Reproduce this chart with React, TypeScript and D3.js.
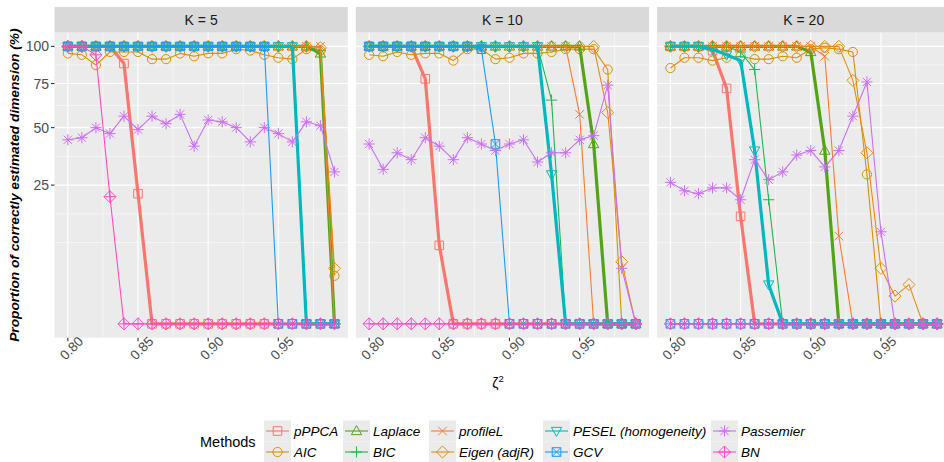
import React, { useRef, useEffect } from "react";
import * as d3 from "d3";

// x values (zeta^2)
const zeta = [0.80, 0.81, 0.82, 0.83, 0.84, 0.85, 0.86, 0.87, 0.88, 0.89, 0.90, 0.91, 0.92, 0.93, 0.94, 0.95, 0.96, 0.97, 0.98, 0.99];

const methods = ["pPPCA", "AIC", "Laplace", "BIC", "profileL", "Eigen (adjR)", "PESEL (homogeneity)", "GCV", "Passemier", "BN"];
const methodColors = ["#F8766D", "#D89000", "#53A316", "#1FB84F", "#FC7B2C", "#E88B0E", "#00B9BF", "#1A9CF5", "#CB6EF5", "#FF4AC3"];
const methodShapes = ["square", "circle", "triUp", "plus", "cross", "diamond", "triDown", "squareX", "asterisk", "diamondPlus"];
const thickMethods = ["pPPCA", "Laplace", "PESEL (homogeneity)"];

const panelTitles = ["K = 5", "K = 10", "K = 20"];
const yTicks = [25, 50, 75, 100];
const xTicks = [0.80, 0.85, 0.90, 0.95];

const k5: Record<string, number[]> = {
  "pPPCA": [100, 100, 100, 100, 88, 22, 0, 0, 0, 0, 0, 0, 0, 0, 0, 0, 0, 0, 0, 0],
  "AIC": [95, 94, 87, 96, 96, 96, 91, 91, 95, 93, 95, 95, 98, 97, 94, 92, 91, 98, 97, 3],
  "Laplace": [100, 100, 100, 100, 100, 100, 100, 100, 100, 100, 100, 100, 100, 100, 100, 100, 100, 100, 95, 0],
  "BIC": [100, 100, 100, 100, 100, 100, 100, 100, 100, 100, 100, 100, 100, 100, 100, 100, 100, 100, 97, 0],
  "profileL": [100, 100, 100, 100, 100, 100, 100, 100, 100, 100, 100, 100, 100, 100, 100, 100, 100, 100, 100, 0],
  "Eigen (adjR)": [100, 100, 100, 100, 100, 100, 100, 100, 100, 100, 100, 100, 100, 100, 100, 100, 100, 100, 99, 4],
  "PESEL (homogeneity)": [100, 100, 100, 100, 100, 100, 100, 100, 100, 100, 100, 100, 100, 100, 100, 100, 100, 0, 0, 0],
  "GCV": [100, 100, 100, 100, 100, 100, 100, 100, 100, 100, 100, 100, 100, 100, 100, 0, 0, 0, 0, 0],
  "Passemier": [44, 45, 50, 47, 56, 49, 56, 52, 57, 41, 54, 53, 50, 43, 50, 47, 43, 53, 51, 30],
  "BN": [100, 100, 94, 21, 0, 0, 0, 0, 0, 0, 0, 0, 0, 0, 0, 0, 0, 0, 0, 0],
};

const k10: Record<string, number[]> = {
  "pPPCA": [100, 100, 100, 100, 78, 8, 0, 0, 0, 0, 0, 0, 0, 0, 0, 0, 0, 0, 0, 0],
  "AIC": [94, 93, 96, 94, 95, 95, 90, 98, 98, 91, 92, 95, 95, 96, 98, 98, 98, 84, 0, 0],
  "Laplace": [100, 100, 100, 100, 100, 100, 100, 100, 100, 100, 100, 100, 100, 100, 100, 100, 42, 0, 0, 0],
  "BIC": [100, 100, 100, 100, 100, 100, 100, 100, 100, 100, 100, 100, 100, 65, 0, 0, 0, 0, 0, 0],
  "profileL": [100, 100, 100, 100, 100, 100, 100, 100, 100, 100, 100, 100, 100, 100, 100, 57, 0, 0, 0, 0],
  "Eigen (adjR)": [100, 100, 100, 100, 100, 100, 100, 100, 100, 100, 100, 100, 100, 100, 100, 100, 100, 58, 5, 0],
  "PESEL (homogeneity)": [100, 100, 100, 100, 100, 100, 100, 100, 100, 100, 100, 100, 100, 29, 0, 0, 0, 0, 0, 0],
  "GCV": [100, 100, 100, 100, 100, 100, 100, 100, 98, 42, 0, 0, 0, 0, 0, 0, 0, 0, 0, 0],
  "Passemier": [42, 31, 38, 35, 45, 41, 35, 45, 42, 39, 42, 44, 34, 38, 38, 44, 46, 74, 4, 0],
  "BN": [0, 0, 0, 0, 0, 0, 0, 0, 0, 0, 0, 0, 0, 0, 0, 0, 0, 0, 0, 0],
};

const k20: Record<string, number[]> = {
  "pPPCA": [100, 100, 100, 97, 72, 15, 0, 0, 0, 0, 0, 0, 0, 0, 0, 0, 0, 0, 0, 0],
  "AIC": [85, 92, 92, 90, 92, 93, 91, 91, 93, 92, 98, 99, 98, 96, 29, 0, 0, 0, 0, 0],
  "Laplace": [100, 100, 100, 100, 100, 100, 100, 100, 100, 100, 96, 39, 0, 0, 0, 0, 0, 0, 0, 0],
  "BIC": [100, 100, 100, 100, 100, 96, 84, 20, 0, 0, 0, 0, 0, 0, 0, 0, 0, 0, 0, 0],
  "profileL": [100, 100, 100, 100, 100, 100, 100, 100, 100, 100, 100, 93, 10, 0, 0, 0, 0, 0, 0, 0],
  "Eigen (adjR)": [100, 100, 100, 100, 100, 100, 100, 100, 100, 100, 100, 100, 100, 77, 38, 4, 1, 2, 0, 0],
  "PESEL (homogeneity)": [100, 100, 100, 98, 94, 90, 39, 2, 0, 0, 0, 0, 0, 0, 0, 0, 0, 0, 0, 0],
  "GCV": [0, 0, 0, 0, 0, 0, 0, 0, 0, 0, 0, 0, 0, 0, 0, 0, 0, 0, 0, 0],
  "Passemier": [26, 23, 22, 24, 24, 20, 35, 27, 30, 37, 39, 32, 39, 56, 76, 11, 0, 0, 0, 0],
  "BN": [0, 0, 0, 0, 0, 0, 0, 0, 0, 0, 0, 0, 0, 0, 0, 0, 0, 0, 0, 0],
};

const panels = [k5, k10, k20];

const FONT = "'Liberation Sans', Arial, Helvetica, sans-serif";

// open ggplot-like point shapes
function shapePath(shape: string) {
  const s = 4.3;
  switch (shape) {
    case "square": return `M${-s},${-s}H${s}V${s}H${-s}Z`;
    case "circle": return `M${s + 0.3},0A${s + 0.3},${s + 0.3} 0 1,1 ${-s - 0.3},0A${s + 0.3},${s + 0.3} 0 1,1 ${s + 0.3},0Z`;
    case "triUp": return `M0,${-s * 1.25}L${s * 1.2},${s * 0.85}L${-s * 1.2},${s * 0.85}Z`;
    case "triDown": return `M0,${s * 1.25}L${s * 1.2},${-s * 0.85}L${-s * 1.2},${-s * 0.85}Z`;
    case "plus": return `M${-s * 1.3},0H${s * 1.3}M0,${-s * 1.3}V${s * 1.3}`;
    case "cross": return `M${-s},${-s}L${s},${s}M${-s},${s}L${s},${-s}`;
    case "diamond": return `M0,${-s * 1.4}L${s * 1.4},0L0,${s * 1.4}L${-s * 1.4},0Z`;
    case "squareX": return `M${-s},${-s}H${s}V${s}H${-s}ZM${-s},${-s}L${s},${s}M${-s},${s}L${s},${-s}`;
    case "asterisk": return `M${-s * 1.3},0H${s * 1.3}M0,${-s * 1.3}V${s * 1.3}M${-s * 0.95},${-s * 0.95}L${s * 0.95},${s * 0.95}M${-s * 0.95},${s * 0.95}L${s * 0.95},${-s * 0.95}`;
    case "diamondPlus": return `M0,${-s * 1.4}L${s * 1.4},0L0,${s * 1.4}L${-s * 1.4},0ZM${-s * 1.4},0H${s * 1.4}M0,${-s * 1.4}V${s * 1.4}`;
  }
  return "";
}

export default function App() {
  const svgRef = useRef<SVGSVGElement>(null);

  useEffect(() => {
    const svg = d3.select(svgRef.current);
    svg.selectAll("*").remove();

    const W = 944;
    const H = 462;
    const panelLeft = 54.5;
    const panelW = 293.3;
    const panelGap = 8;
    const stripTop = 7;
    const plotTop = 32.5;
    const plotBottom = 337.7;

    svg.append("rect").attr("width", W).attr("height", H).attr("fill", "white");

    // sqrt y scale, expanded 5% in transformed space
    const sqMax = Math.sqrt(d3.max(yTicks) as number);
    const yS = d3.scaleLinear().domain([-sqMax * 0.05, sqMax * 1.05]).range([plotBottom, plotTop]);
    const y = (v: number) => yS(Math.sqrt(v));

    const sqTicks = yTicks.map(Math.sqrt);
    const step = sqTicks[1] - sqTicks[0];
    const ext = [sqTicks[0] - step, ...sqTicks];
    const yMinor = [ext[0]];
    for (let i = 0; i < ext.length - 1; i++) yMinor.push((ext[i] + ext[i + 1]) / 2);

    const [xmin, xmax] = d3.extent(zeta) as [number, number];
    const pad = (xmax - xmin) * 0.05;

    panels.forEach((vals, p) => {
      const x0 = panelLeft + p * (panelW + panelGap);
      const x = d3.scaleLinear().domain([xmin - pad, xmax + pad]).range([x0, x0 + panelW]);
      const g = svg.append("g");

      g.append("rect").attr("x", x0).attr("y", plotTop).attr("width", panelW)
        .attr("height", plotBottom - plotTop).attr("fill", "#EBEBEB");

      // minor grid
      yMinor.forEach(s => {
        g.append("line").attr("x1", x0).attr("x2", x0 + panelW)
          .attr("y1", yS(s)).attr("y2", yS(s)).attr("stroke", "white").attr("stroke-width", 0.55);
      });
      xTicks.forEach(t => {
        const xm = x(t + 0.025);
        g.append("line").attr("x1", xm).attr("x2", xm)
          .attr("y1", plotTop).attr("y2", plotBottom).attr("stroke", "white").attr("stroke-width", 0.55);
      });
      // major grid
      yTicks.forEach(t => {
        g.append("line").attr("x1", x0).attr("x2", x0 + panelW)
          .attr("y1", y(t)).attr("y2", y(t)).attr("stroke", "white").attr("stroke-width", 1.1);
      });
      xTicks.forEach(t => {
        g.append("line").attr("x1", x(t)).attr("x2", x(t))
          .attr("y1", plotTop).attr("y2", plotBottom).attr("stroke", "white").attr("stroke-width", 1.1);
      });

      // strip
      g.append("rect").attr("x", x0).attr("y", stripTop).attr("width", panelW)
        .attr("height", plotTop - stripTop).attr("fill", "#D9D9D9");
      g.append("text").attr("x", x0 + panelW / 2).attr("y", (stripTop + plotTop) / 2 + 0.5)
        .attr("text-anchor", "middle").attr("dominant-baseline", "central")
        .attr("font-family", FONT).attr("font-size", 14).attr("fill", "#1A1A1A")
        .text(panelTitles[p]);

      // x axis
      xTicks.forEach(t => {
        g.append("line").attr("x1", x(t)).attr("x2", x(t)).attr("y1", plotBottom).attr("y2", plotBottom + 3.5)
          .attr("stroke", "#333333").attr("stroke-width", 1.1);
        g.append("text")
          .attr("transform", `translate(${x(t) + 3.8},${plotBottom + 10.5}) rotate(-45)`)
          .attr("text-anchor", "middle").attr("dominant-baseline", "central")
          .attr("font-family", FONT).attr("font-size", 13.5).attr("fill", "#4D4D4D")
          .text(d3.format(".2f")(t));
      });

      // series
      const line = d3.line<number>().x((d, i) => x(zeta[i])).y(d => y(d));
      methods.forEach((m, mi) => {
        const data = vals[m];
        g.append("path").attr("d", line(data) as string).attr("fill", "none")
          .attr("stroke", methodColors[mi])
          .attr("stroke-width", thickMethods.includes(m) ? 3.2 : 1.1)
          .attr("stroke-linejoin", "round");
        g.selectAll(null).data(data).join("path")
          .attr("transform", (d, i) => `translate(${x(zeta[i])},${y(d)})`)
          .attr("d", shapePath(methodShapes[mi]))
          .attr("fill", "none").attr("stroke", methodColors[mi]).attr("stroke-width", 1);
      });
    });

    // y axis (first panel)
    yTicks.forEach(t => {
      svg.append("line").attr("x1", panelLeft - 3.5).attr("x2", panelLeft).attr("y1", y(t)).attr("y2", y(t))
        .attr("stroke", "#333333").attr("stroke-width", 1.1);
      svg.append("text").attr("x", panelLeft - 5.5).attr("y", y(t)).attr("text-anchor", "end")
        .attr("dominant-baseline", "central").attr("font-family", FONT).attr("font-size", 14)
        .attr("fill", "#4D4D4D").text(t);
    });

    svg.append("text")
      .attr("transform", `translate(14,${(plotTop + plotBottom) / 2}) rotate(-90)`)
      .attr("text-anchor", "middle").attr("dominant-baseline", "central")
      .attr("font-family", FONT).attr("font-size", 13.7).attr("font-weight", "bold").attr("font-style", "italic")
      .attr("fill", "black").text("Proportion of correctly estimated dimension (%)");

    // x title
    const xt = svg.append("text").attr("x", 498).attr("y", 388).attr("text-anchor", "middle")
      .attr("font-family", FONT).attr("font-size", 14).attr("fill", "black");
    xt.append("tspan").text("ζ");
    xt.append("tspan").attr("font-size", 9.5).attr("dy", -6).text("2");

    // legend
    svg.append("text").attr("x", 200).attr("y", 442).attr("dominant-baseline", "central")
      .attr("font-family", FONT).attr("font-size", 14.5).attr("fill", "black").text("Methods");
    const keyX = [264, 343, 429, 543, 711];
    const rowY = [420.5, 441.5];
    methods.forEach((m, mi) => {
      const kx = keyX[Math.floor(mi / 2)];
      const ky = rowY[mi % 2];
      svg.append("rect").attr("x", kx).attr("y", ky).attr("width", 27).attr("height", 21).attr("fill", "#EBEBEB");
      svg.append("line").attr("x1", kx + 2).attr("x2", kx + 25).attr("y1", ky + 10.5).attr("y2", ky + 10.5)
        .attr("stroke", methodColors[mi]).attr("stroke-width", 1.1);
      svg.append("path").attr("transform", `translate(${kx + 13.5},${ky + 10.5})`)
        .attr("d", shapePath(methodShapes[mi])).attr("fill", "none")
        .attr("stroke", methodColors[mi]).attr("stroke-width", 1);
      svg.append("text").attr("x", kx + 30).attr("y", ky + 10.5).attr("dominant-baseline", "central")
        .attr("font-family", FONT).attr("font-size", 13.5).attr("font-style", "italic").attr("fill", "black")
        .text(m);
    });
  }, []);

  return (
    <svg ref={svgRef} width={944} height={462}
      style={{ position: "absolute", left: 0, top: 0, display: "block" }} />
  );
}
